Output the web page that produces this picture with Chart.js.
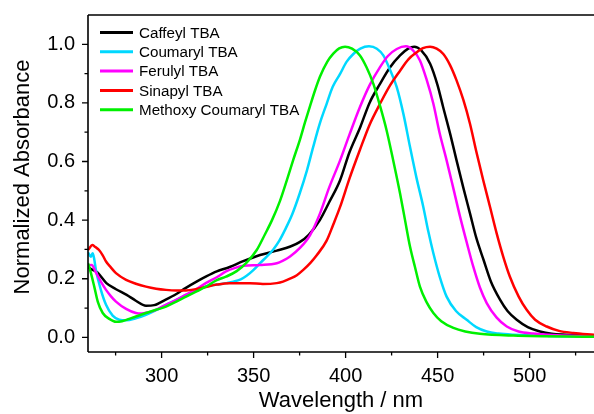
<!DOCTYPE html>
<html><head><meta charset="utf-8">
<script src="https://cdn.jsdelivr.net/npm/chart.js@4.4.0/dist/chart.umd.min.js"></script>
<style>html,body{margin:0;padding:0;background:#fff}</style>
</head><body>
<canvas id="c" width="594" height="414"></canvas>
<script>
const seriesNames = ['Caffeyl TBA', 'Coumaryl TBA', 'Ferulyl TBA', 'Sinapyl TBA', 'Methoxy Coumaryl TBA'];
const seriesColors = ['#000000', '#00D8FF', '#FF00FF', '#FF0000', '#00F000'];
const xTitle = 'Wavelength / nm';
const yTitle = 'Normalized Absorbance';

const caffeylNm  = [260,262,265,270,275,281,286,291.5,296,302,308,313,319,324,330,337,344,353.5,362.6,370,375,380,386,391,397,402,408,413,418.7,424,429.6,434,437.3,441,446,450,453,457,460.3,464,467.6,471,475,479,484,488,493,499,505.6,512,520,535];
const caffeylAbs = [0.24,0.232,0.222,0.185,0.165,0.145,0.125,0.108,0.11,0.128,0.148,0.168,0.19,0.207,0.225,0.24,0.259,0.281,0.296,0.31,0.325,0.35,0.40,0.46,0.536,0.63,0.718,0.80,0.865,0.92,0.962,0.985,0.992,0.98,0.933,0.86,0.786,0.69,0.604,0.51,0.423,0.34,0.264,0.19,0.128,0.09,0.06,0.035,0.02,0.012,0.009,0.005];

const coumarylNm  = [260,261.5,262.5,263.3,264.3,267,269.8,273.4,277,280.7,286,291.5,297,302.4,308,313.3,319,324,330,335,339,343,346.2,350,353.5,357,360.7,364,367,371,375,379,382.4,386,389.7,393,397,400.5,404.2,408,412.7,417,420.5,424,427.8,431.5,435,438.5,442.2,445,447.7,451,454.9,460,465.8,471,476.7,483,491.2,510,535];
const coumarylAbs = [0.29,0.275,0.287,0.27,0.23,0.162,0.111,0.074,0.06,0.058,0.065,0.077,0.093,0.111,0.128,0.145,0.16,0.173,0.18,0.185,0.19,0.198,0.21,0.23,0.253,0.275,0.30,0.33,0.366,0.42,0.49,0.57,0.65,0.73,0.797,0.855,0.899,0.94,0.967,0.985,0.993,0.985,0.962,0.915,0.854,0.76,0.65,0.545,0.446,0.36,0.287,0.21,0.139,0.09,0.06,0.035,0.02,0.013,0.009,0.005,0.003];

const ferulylNm  = [260,262,264.3,267,269.8,272.5,275.2,280.7,286,289,293,297,302,308,313,319,324,330,335,340,344.4,353.5,362.6,366,369.8,375.2,380.7,386.1,391,397,402,407.8,413,418.7,423,427.8,432.8,436.5,440.4,444,447.7,451,454.9,458.5,462.2,466,469.4,473,476.7,482,487.6,494,502,515,535];
const ferulylAbs = [0.245,0.247,0.222,0.19,0.162,0.14,0.122,0.097,0.083,0.081,0.086,0.094,0.11,0.128,0.145,0.165,0.185,0.205,0.225,0.237,0.244,0.247,0.253,0.262,0.276,0.305,0.349,0.423,0.51,0.604,0.69,0.786,0.86,0.922,0.96,0.984,0.993,0.98,0.945,0.88,0.797,0.70,0.604,0.51,0.412,0.32,0.241,0.17,0.117,0.068,0.037,0.02,0.013,0.007,0.004];

const sinapylNm  = [260,262.5,264,266,268,269.8,272.5,275.2,280.7,286,291.5,297,302.4,308,313.3,319,324,330,337,348,355,362.6,366,369.8,373.5,377,381,384.3,389.7,393.3,397,402,407.8,413,418.7,424,429.6,434,438.7,442,445.9,449.5,453.1,456.7,460.3,464,467.6,471,474.8,478.5,482.1,485.7,489.3,494,498.4,503,509.3,516,523.8,535];
const sinapylAbs = [0.298,0.315,0.308,0.298,0.28,0.259,0.238,0.219,0.196,0.183,0.173,0.166,0.162,0.16,0.16,0.165,0.172,0.18,0.185,0.185,0.182,0.185,0.19,0.2,0.212,0.23,0.255,0.28,0.33,0.385,0.445,0.54,0.64,0.725,0.797,0.858,0.91,0.948,0.973,0.987,0.992,0.985,0.967,0.93,0.877,0.81,0.729,0.635,0.536,0.445,0.355,0.275,0.207,0.14,0.094,0.06,0.037,0.022,0.015,0.009];

const methoxyNm  = [260,261.6,263.4,265.3,268,271.6,275.2,278.5,282.4,287,291.5,297,302.4,308,313.3,319,324.1,330,335,340.8,346.2,351.7,356.2,360,364.3,368,371.5,375.2,378,380.7,383.5,386.1,390,393.3,396.5,399.7,403.5,407.8,411.5,415.1,418.7,422.3,426,429.6,432.3,435,437.7,440.4,444,447.7,452,458.6,465,473,491.2,535];
const methoxyAbs = [0.253,0.219,0.173,0.122,0.083,0.063,0.053,0.055,0.063,0.073,0.083,0.094,0.105,0.122,0.139,0.157,0.173,0.195,0.207,0.226,0.255,0.298,0.352,0.40,0.465,0.535,0.605,0.675,0.735,0.79,0.845,0.89,0.94,0.968,0.986,0.992,0.985,0.962,0.92,0.865,0.79,0.706,0.60,0.491,0.40,0.31,0.24,0.173,0.12,0.083,0.055,0.032,0.02,0.012,0.006,0.002];

const xMajorTicks = [300, 350, 400, 450, 500];
const xMinorTicks = [275, 325, 375, 425, 475, 525];
const yMajorTicks = [0.0, 0.2, 0.4, 0.6, 0.8, 1.0];
const yMinorTicks = [0.1, 0.3, 0.5, 0.7, 0.9];

const nmSets  = [caffeylNm, coumarylNm, ferulylNm, sinapylNm, methoxyNm];
const absSets = [caffeylAbs, coumarylAbs, ferulylAbs, sinapylAbs, methoxyAbs];

const datasets = seriesNames.map((name, i) => ({
  label: name,
  data: nmSets[i].map((x, j) => ({x: x, y: absSets[i][j]})),
  borderColor: seriesColors[i],
  backgroundColor: seriesColors[i],
  borderWidth: 2.5,
  pointRadius: 0,
  fill: false,
  cubicInterpolationMode: 'monotone',
  order: seriesNames.length - i
}));

const FONT = 'Arial, "Liberation Sans", sans-serif';

const framePlugin = {
  id: 'frame',
  afterDraw(chart) {
    const {ctx, chartArea: a, scales} = chart;
    ctx.save();
    ctx.strokeStyle = '#000';
    ctx.lineWidth = 1.6;
    ctx.beginPath();
    ctx.moveTo(a.left, a.top); ctx.lineTo(a.right + 1, a.top);
    ctx.moveTo(a.left, a.top); ctx.lineTo(a.left, a.bottom);
    ctx.moveTo(a.left, a.bottom); ctx.lineTo(a.right + 1, a.bottom);
    ctx.stroke();
    ctx.lineWidth = 1.3;
    ctx.beginPath();
    xMajorTicks.forEach(v => { const p = scales.x.getPixelForValue(v); ctx.moveTo(p, a.bottom); ctx.lineTo(p, a.bottom + 6); });
    xMinorTicks.forEach(v => { const p = scales.x.getPixelForValue(v); ctx.moveTo(p, a.bottom); ctx.lineTo(p, a.bottom + 3.5); });
    yMajorTicks.forEach(v => { const p = scales.y.getPixelForValue(v); ctx.moveTo(a.left, p); ctx.lineTo(a.left - 6, p); });
    yMinorTicks.forEach(v => { const p = scales.y.getPixelForValue(v); ctx.moveTo(a.left, p); ctx.lineTo(a.left - 3.5, p); });
    ctx.stroke();
    // y axis title
    ctx.save();
    ctx.translate(22.5, 177);
    ctx.rotate(-Math.PI / 2);
    ctx.font = '22px ' + FONT;
    ctx.fillStyle = '#000';
    ctx.textAlign = 'center';
    ctx.textBaseline = 'middle';
    ctx.fillText(yTitle, 0, 0);
    ctx.restore();
    // legend
    ctx.font = '15.2px ' + FONT;
    ctx.textBaseline = 'middle';
    ctx.textAlign = 'left';
    chart.data.datasets.forEach((ds, i) => {
      const y = 32.5 + i * 19.3;
      ctx.strokeStyle = ds.borderColor;
      ctx.lineWidth = 3;
      ctx.beginPath(); ctx.moveTo(100, y); ctx.lineTo(133, y); ctx.stroke();
      ctx.fillStyle = '#000';
      ctx.fillText(ds.label, 139, y + 1);
    });
    ctx.restore();
  }
};

new Chart(document.getElementById('c'), {
  type: 'line',
  data: { datasets: datasets },
  options: {
    responsive: false,
    animation: false,
    devicePixelRatio: 1,
    layout: { padding: { left: 0, right: 0, top: 15, bottom: 0 } },
    plugins: { legend: { display: false }, tooltip: { enabled: false } },
    scales: {
      x: {
        type: 'linear', min: 260, max: 535,
        afterBuildTicks: s => { s.ticks = xMajorTicks.map(v => ({value: v})); },
        afterFit: s => { s.height = 62; s.paddingLeft = 0; s.paddingRight = 0; },
        grid: { display: false, drawTicks: false },
        border: { display: false },
        ticks: { color: '#000', font: { family: FONT, size: 20 }, padding: 12, maxRotation: 0, autoSkip: false },
        title: { display: true, text: xTitle, color: '#000', font: { family: FONT, size: 22 }, padding: { top: 0, bottom: 0 } }
      },
      y: {
        type: 'linear', min: -0.05, max: 1.1,
        afterBuildTicks: s => { s.ticks = yMajorTicks.map(v => ({value: v})); },
        afterFit: s => { s.width = 88; s.paddingTop = 0; s.paddingBottom = 0; },
        grid: { display: false, drawTicks: false },
        border: { display: false },
        ticks: { color: '#000', font: { family: FONT, size: 20 }, padding: 13, callback: v => v.toFixed(1) },
        title: { display: false }
      }
    }
  },
  plugins: [framePlugin]
});
</script>
</body></html>
